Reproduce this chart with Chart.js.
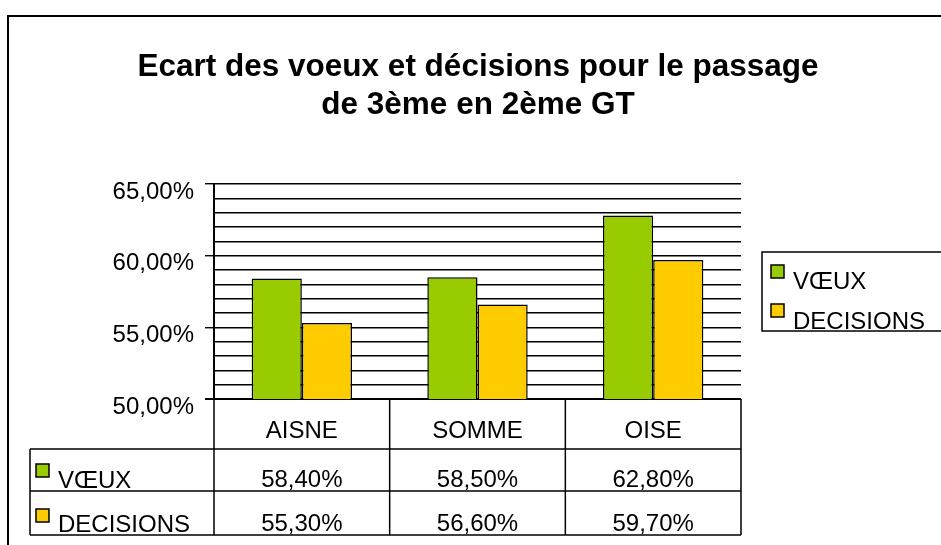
<html>
<head>
    <title>Ecart des voeux et décisions</title>
    <script src="https://cdn.jsdelivr.net/npm/chart.js"></script>
    <style>
        body { margin: 0; background: #fff; }
        #wrap { width: 941px; height: 545px; }
    </style>
</head>
<body>
    <div id="wrap"><canvas id="chart" width="941" height="545"></canvas></div>
    <script>
        const titleLines = ['Ecart des voeux et décisions pour le passage', 'de 3ème en 2ème GT'];
        const categories = ['AISNE', 'SOMME', 'OISE'];
        const voeux = [58.4, 58.5, 62.8];
        const decisions = [55.3, 56.6, 59.7];
        const seriesNames = ['VŒUX', 'DECISIONS'];
        const seriesColors = ['#99CC00', '#FFCC00'];

        const FONT = '"Liberation Sans", Arial, sans-serif';
        const fmt = v => v.toFixed(2).replace('.', ',') + '%';

        // frame, data table and boxed legend, Excel style
        const excelBits = {
            id: 'excelBits',
            beforeDraw(chart) {
                const ctx = chart.ctx;
                ctx.save();
                ctx.fillStyle = '#fff';
                ctx.fillRect(0, 0, chart.width, chart.height);
                ctx.strokeStyle = '#000';
                ctx.lineWidth = 2;
                ctx.strokeRect(8, 16, chart.width + 20, chart.height + 20);
                ctx.restore();
            },
            afterDraw(chart) {
                const ctx = chart.ctx;
                const area = chart.chartArea;
                const xs = chart.scales.x;
                const step = xs.width / categories.length;
                const rowTops = [area.bottom, area.bottom + 50, area.bottom + 92, area.bottom + 136];
                const tableLeft = 30;

                ctx.save();
                ctx.strokeStyle = '#000';
                ctx.lineWidth = 1.5;
                ctx.beginPath();
                for (let r = 1; r < rowTops.length; r++) {
                    ctx.moveTo(tableLeft, rowTops[r]);
                    ctx.lineTo(area.right, rowTops[r]);
                }
                for (let i = 0; i <= categories.length; i++) {
                    const x = area.left + i * step;
                    ctx.moveTo(x, rowTops[0]);
                    ctx.lineTo(x, rowTops[3]);
                }
                ctx.moveTo(tableLeft, rowTops[1]);
                ctx.lineTo(tableLeft, rowTops[3]);
                ctx.stroke();

                ctx.fillStyle = '#000';
                ctx.font = '24px ' + FONT;
                ctx.textAlign = 'center';
                ctx.textBaseline = 'alphabetic';
                const rows = [voeux, decisions];
                categories.forEach((c, i) => {
                    const cx = xs.getPixelForValue(i);
                    ctx.fillText(c, cx, rowTops[0] + 39);
                    rows.forEach((arr, r) => {
                        ctx.fillText(fmt(arr[i]), cx, rowTops[r + 1] + 38 + r * 2);
                    });
                });

                // row headers with keys
                ctx.textAlign = 'left';
                seriesNames.forEach((name, r) => {
                    const top = rowTops[r + 1];
                    ctx.fillStyle = seriesColors[r];
                    ctx.fillRect(36, top + 15 + r * 3, 13, 13);
                    ctx.strokeRect(36, top + 15 + r * 3, 13, 13);
                    ctx.fillStyle = '#000';
                    ctx.fillText(name, 58, top + 39 + r * 2);
                });

                // legend box on the right
                ctx.lineWidth = 1.5;
                ctx.strokeRect(762, 252, 200, 79);
                seriesNames.forEach((name, r) => {
                    const y = 265 + r * 39;
                    ctx.fillStyle = seriesColors[r];
                    ctx.fillRect(771, y, 13, 13);
                    ctx.strokeRect(771, y, 13, 13);
                    ctx.fillStyle = '#000';
                    ctx.fillText(name, 793, 289 + r * 40);
                });
                ctx.restore();
            }
        };

        new Chart(document.getElementById('chart'), {
            type: 'bar',
            data: {
                labels: categories,
                datasets: [
                    { label: seriesNames[0], data: voeux, backgroundColor: seriesColors[0], borderColor: '#000', borderWidth: 1.5 },
                    { label: seriesNames[1], data: decisions, backgroundColor: seriesColors[1], borderColor: '#000', borderWidth: 1.5 }
                ]
            },
            options: {
                responsive: false,
                animation: false,
                events: [],
                layout: { padding: { top: 0, left: 15, right: 0, bottom: 146 } },
                datasets: { bar: { categoryPercentage: 0.5714, barPercentage: 1 } },
                plugins: {
                    legend: { display: false },
                    tooltip: { enabled: false },
                    title: {
                        display: true,
                        text: titleLines,
                        color: '#000',
                        font: { family: FONT, size: 31.5, weight: 'bold', lineHeight: 1.19 },
                        padding: { top: 49, bottom: 60 }
                    }
                },
                scales: {
                    x: { display: false },
                    y: {
                        min: 50,
                        max: 65,
                        afterFit(scale) { scale.width = 199; },
                        border: { display: true, color: '#000', width: 2 },
                        grid: {
                            color: '#000',
                            lineWidth: ctx => ctx.tick && ctx.tick.value === 50 ? 2 : 1.4,
                            tickLength: 9,
                            tickColor: ctx => ctx.tick && ctx.tick.value % 5 === 0 ? '#000' : 'rgba(0,0,0,0)'
                        },
                        ticks: {
                            stepSize: 1,
                            autoSkip: false,
                            padding: 11,
                            labelOffset: 8,
                            color: '#000',
                            font: { family: FONT, size: 24 },
                            callback: v => v % 5 === 0 ? fmt(v) : ''
                        }
                    },
                    // empty right-hand axis that only reserves room for the legend box
                    spacer: {
                        axis: 'y',
                        position: 'right',
                        min: 50,
                        max: 65,
                        afterFit(scale) { scale.width = 200; },
                        border: { display: false },
                        grid: { display: false, drawTicks: false },
                        ticks: { display: false }
                    }
                }
            },
            plugins: [excelBits]
        });
    </script>
</body>
</html>
